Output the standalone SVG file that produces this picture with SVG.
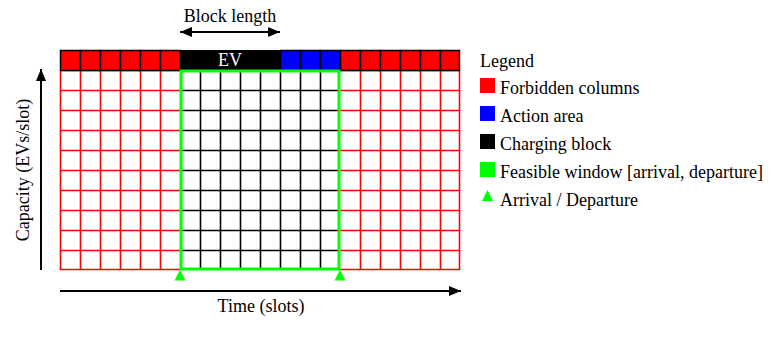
<svg xmlns="http://www.w3.org/2000/svg" width="780" height="340" viewBox="0 0 780 340">
<style>
text{font-family:"Liberation Serif","Times New Roman",serif;font-size:18px;fill:#000}
.hr{fill:#f00;stroke:#000;stroke-width:1.5}
.hb{fill:#00f;stroke:#000;stroke-width:1.5}
.ax{stroke:#000;stroke-width:2;fill:none}
.gr{stroke:#f00;stroke-width:1.6;fill:none}
.gb{stroke:#000;stroke-width:1.6;fill:none}
</style>
<defs>
<marker id="ah" viewBox="0 0 12 10" refX="12" refY="5" markerWidth="12" markerHeight="10" markerUnits="userSpaceOnUse" orient="auto-start-reverse"><path d="M0,0 L12,5 L0,10 Z" fill="#000"/></marker>
</defs>
<g id="grid">
<g id="left-forbidden">
<rect x="60" y="70" width="120" height="200" fill="#fff"/>
<path class="gr" d="M60,70.5H180M60,90.5H180M60,110.5H180M60,130.5H180M60,150.5H180M60,170.5H180M60,190.5H180M60,210.5H180M60,230.5H180M60,250.5H180M60,269.5H180M60.5,70V270M80.5,70V270M100.5,70V270M120.5,70V270M140.5,70V270M160.5,70V270"/>
</g>
<g id="right-forbidden">
<rect x="340" y="70" width="120" height="200" fill="#fff"/>
<path class="gr" d="M340,70.5H460M340,90.5H460M340,110.5H460M340,130.5H460M340,150.5H460M340,170.5H460M340,190.5H460M340,210.5H460M340,230.5H460M340,250.5H460M340,269.5H460M360.5,70V270M380.5,70V270M400.5,70V270M420.5,70V270M440.5,70V270M459.5,70V270"/>
</g>
<g id="window-cells">
<path class="gb" d="M180,90.5H340M180,110.5H340M180,130.5H340M180,150.5H340M180,170.5H340M180,190.5H340M180,210.5H340M180,230.5H340M180,250.5H340M200.5,70V270M220.5,70V270M240.5,70V270M260.5,70V270M280.5,70V270M300.5,70V270M320.5,70V270"/>
</g>
</g>
<g id="header">
<rect class="hr" x="60.5" y="50.5" width="20" height="20"/>
<rect class="hr" x="80.5" y="50.5" width="20" height="20"/>
<rect class="hr" x="100.5" y="50.5" width="20" height="20"/>
<rect class="hr" x="120.5" y="50.5" width="20" height="20"/>
<rect class="hr" x="140.5" y="50.5" width="20" height="20"/>
<rect class="hr" x="160.5" y="50.5" width="20" height="20"/>
<rect class="hb" x="280.5" y="50.5" width="20" height="20"/>
<rect class="hb" x="300.5" y="50.5" width="20" height="20"/>
<rect class="hb" x="320.5" y="50.5" width="20" height="20"/>
<rect class="hr" x="340.5" y="50.5" width="20" height="20"/>
<rect class="hr" x="360.5" y="50.5" width="20" height="20"/>
<rect class="hr" x="380.5" y="50.5" width="20" height="20"/>
<rect class="hr" x="400.5" y="50.5" width="20" height="20"/>
<rect class="hr" x="420.5" y="50.5" width="20" height="20"/>
<rect class="hr" x="440.5" y="50.5" width="19" height="20"/>
</g>
<g id="ev-block">
<rect x="180" y="50" width="100" height="21" fill="#000"/>
<text x="230" y="66" text-anchor="middle" style="fill:#fff">EV</text>
</g>
<g id="feasible-window">
<rect x="181" y="71" width="158" height="198" fill="none" stroke="#0f0" stroke-width="3"/>
</g>
<g id="markers">
<polygon points="180,270 174.5,280.5 185.5,280.5" fill="#0f0"/>
<polygon points="340,270 334.5,280.5 345.5,280.5" fill="#0f0"/>
</g>
<g id="connectors">
<line class="ax" x1="180" y1="32" x2="280" y2="32" marker-start="url(#ah)" marker-end="url(#ah)"/>
<line class="ax" x1="60" y1="291" x2="461" y2="291" marker-end="url(#ah)"/>
<line class="ax" x1="41" y1="270" x2="41" y2="69" marker-end="url(#ah)"/>
</g>
<g id="labels">
<text x="230" y="22" text-anchor="middle">Block length</text>
<text x="261" y="312" text-anchor="middle">Time (slots)</text>
<text transform="translate(29,170) rotate(-90)" text-anchor="middle">Capacity (EVs/slot)</text>
</g>
<g id="legend">
<text x="480" y="67">Legend</text>
<rect x="480" y="78" width="15" height="15" fill="#f00"/>
<text x="500" y="94">Forbidden columns</text>
<rect x="480" y="106" width="15" height="15" fill="#00f"/>
<text x="500" y="122">Action area</text>
<rect x="480" y="134" width="15" height="15" fill="#000"/>
<text x="500" y="150">Charging block</text>
<rect x="480" y="162" width="15" height="15" fill="#0f0"/>
<text x="500" y="178">Feasible window [arrival, departure]</text>
<polygon points="487.5,190 482,201 493,201" fill="#0f0"/>
<text x="500" y="206">Arrival / Departure</text>
</g>
</svg>
